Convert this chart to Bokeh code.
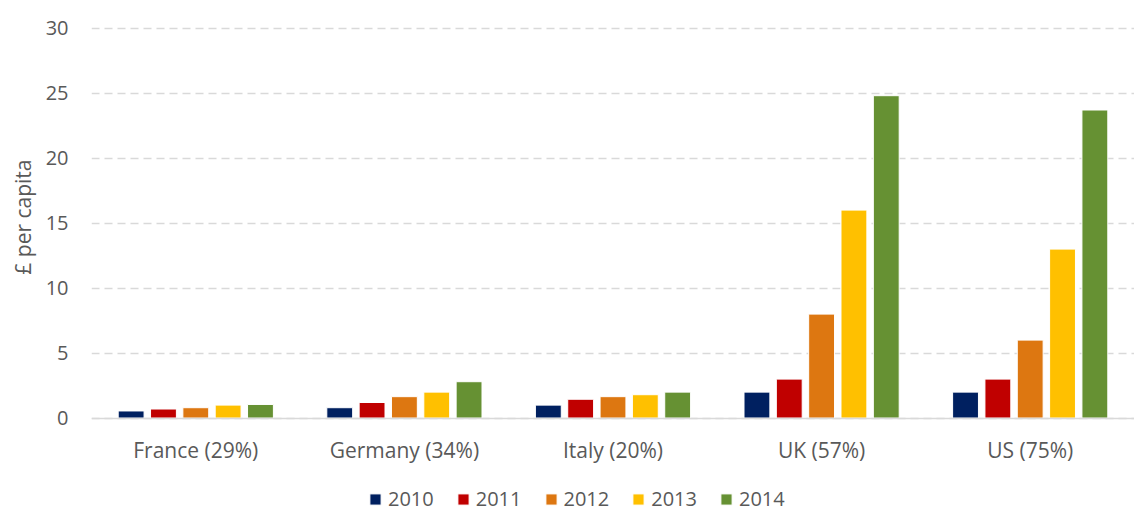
from bokeh.plotting import figure
from bokeh.models import FactorRange, Range1d, Legend, LegendItem, FixedTicker, ColumnDataSource, Title
from bokeh.transform import dodge
from bokeh.embed import file_html
from bokeh.resources import INLINE

categories = ["France (29%)", "Germany (34%)", "Italy (20%)", "UK (57%)", "US (75%)"]
years = ["2010", "2011", "2012", "2013", "2014"]
v2010 = [0.55, 0.8, 1.0, 2.0, 2.0]
v2011 = [0.7, 1.2, 1.45, 3.0, 3.0]
v2012 = [0.8, 1.65, 1.65, 8.0, 6.0]
v2013 = [1.0, 2.0, 1.8, 16.0, 13.0]
v2014 = [1.05, 2.8, 2.0, 24.8, 23.7]
y_ticks = [0, 5, 10, 15, 20, 25, 30]

colors = ["#002060", "#C00000", "#DD7711", "#FFC000", "#669133"]
series = [v2010, v2011, v2012, v2013, v2014]

FONT = "Open Sans"
TXT = "#595959"

source = ColumnDataSource(dict(cat=categories, **{y: s for y, s in zip(years, series)}))

# the frame reaches below the zero line so that the category labels and legend sit inside it
p = figure(x_range=FactorRange(*categories), y_range=Range1d(-7.26, 30.2),
           width=1134, height=512, output_backend="svg", toolbar_location=None,
           min_border_left=90, min_border_right=0, min_border_top=25, min_border_bottom=0)

step = 0.155
offsets = [-2 * step, -step, 0, step, 2 * step]
items = []
for yr, off, col in zip(years, offsets, colors):
    r = p.vbar(x=dodge("cat", off, range=p.x_range), top=yr, width=0.124, source=source,
               fill_color=col, line_color="white", line_width=1)
    items.append(LegendItem(label=yr, renderers=[r]))

p.outline_line_color = None
p.xgrid.grid_line_color = None
p.ygrid.grid_line_color = "#d9d9d9"
p.ygrid.grid_line_width = 1.5
p.ygrid.grid_line_dash = "8 5"
p.ygrid.ticker = FixedTicker(ticks=y_ticks)

p.yaxis.ticker = FixedTicker(ticks=y_ticks)
p.yaxis.axis_line_color = None
p.yaxis.major_tick_line_color = None
p.yaxis.minor_tick_line_color = None
p.yaxis.major_label_text_font = FONT
p.yaxis.major_label_text_font_size = "20px"
p.yaxis.major_label_text_color = TXT
p.yaxis.major_label_standoff = 17

ylabel = Title(text="£ per capita", align="right", vertical_align="bottom", offset=134,
               standoff=12, text_font=FONT, text_font_size="21px", text_font_style="normal",
               text_color=TXT)
p.add_layout(ylabel, "left")

p.xaxis.fixed_location = 0
p.xaxis.axis_line_color = "#d9d9d9"
p.xaxis.axis_line_width = 1.5
p.xaxis.major_tick_line_color = None
p.xaxis.minor_tick_line_color = None
p.xaxis.major_label_text_font = FONT
p.xaxis.major_label_text_font_size = "21px"
p.xaxis.major_label_text_color = TXT
p.xaxis.major_label_standoff = 12

legend = Legend(items=items, orientation="horizontal", location=(277, 0),
                label_text_font=FONT, label_text_font_size="20px", label_text_color=TXT,
                glyph_width=14, glyph_height=14, label_standoff=6, spacing=22,
                border_line_color=None, background_fill_alpha=0, margin=0, padding=0)
p.add_layout(legend, "center")

open("out.html", "w").write(file_html(p, INLINE))
